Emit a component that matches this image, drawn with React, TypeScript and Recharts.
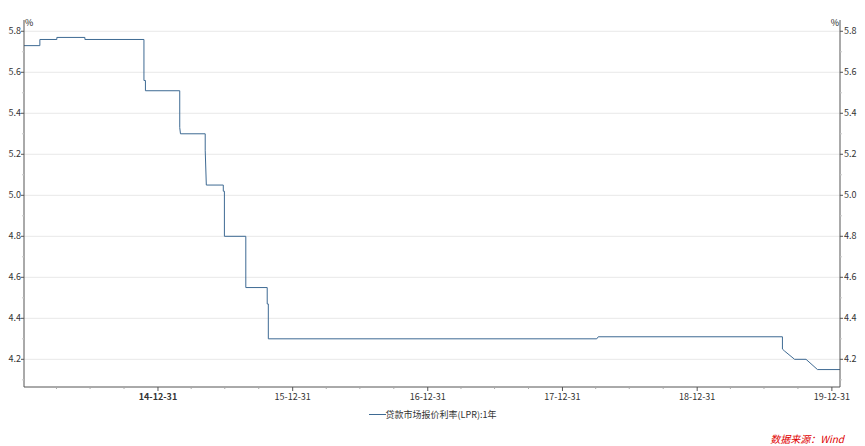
import React from "react";
import { LineChart, Line, XAxis, YAxis, CartesianGrid, Legend } from "recharts";

// 贷款市场报价利率(LPR):1年, change points
const rateDates = [
  "2014-01-02", "2014-02-14", "2014-02-14", "2014-04-01", "2014-04-01", "2014-06-16", "2014-06-16",
  "2014-11-23", "2014-11-23", "2014-11-27", "2014-11-27",
  "2015-02-28", "2015-02-28", "2015-03-02",
  "2015-05-08", "2015-05-08", "2015-05-11",
  "2015-06-26", "2015-06-26", "2015-06-29", "2015-06-29",
  "2015-08-26", "2015-08-26",
  "2015-10-23", "2015-10-23", "2015-10-26", "2015-10-26",
  "2018-04-03", "2018-04-07",
  "2019-08-19", "2019-08-19", "2019-08-25", "2019-09-21", "2019-10-22", "2019-11-22", "2020-01-22",
];
const rateValues = [
  5.73, 5.73, 5.76, 5.76, 5.77, 5.77, 5.76,
  5.76, 5.56, 5.56, 5.51,
  5.51, 5.33, 5.3,
  5.3, 5.22, 5.05,
  5.05, 5.02, 5.02, 4.8,
  4.8, 4.55,
  4.55, 4.47, 4.47, 4.3,
  4.3, 4.31,
  4.31, 4.25, 4.24, 4.2, 4.2, 4.15, 4.15,
];

const seriesName = "贷款市场报价利率(LPR):1年";
const yMajorTicks = [4.2, 4.4, 4.6, 4.8, 5.0, 5.2, 5.4, 5.6, 5.8];
const yMinorTicks = [4.1, 4.3, 4.5, 4.7, 4.9, 5.1, 5.3, 5.5, 5.7];
const tickYears = [2014, 2015, 2016, 2017, 2018, 2019];
const quarterEnds = ["03-31", "06-30", "09-30", "12-31"];
const boldLabel = "14-12-31";
const xStart = "2014-01-02";
const xEnd = "2020-01-22";

const data = rateDates.map((d, i) => ({ t: Date.parse(d), rate: rateValues[i] }));
const xTicks = tickYears.flatMap((y) => quarterEnds.map((q) => Date.parse(`${y}-${q}`)));
const yTicks = [...yMajorTicks, ...yMinorTicks].sort((a, b) => a - b);

const FONT = "'Noto Sans CJK SC', 'Liberation Sans', sans-serif";
const AXIS = "#555";
const LINE = "#3e6a93";

const isMajor = (v: number) => yMajorTicks.some((t) => Math.abs(t - v) < 1e-6);

function fmtDate(ms: number) {
  const d = new Date(ms);
  const yy = String(d.getUTCFullYear()).slice(2);
  const mm = String(d.getUTCMonth() + 1).padStart(2, "0");
  const dd = String(d.getUTCDate()).padStart(2, "0");
  return `${yy}-${mm}-${dd}`;
}

function LeftTick(props: any) {
  const { x, y, payload } = props;
  const major = isMajor(payload.value);
  const ax = x + 3;
  return (
    <g>
      <line x1={ax - (major ? 3 : 2)} x2={ax} y1={y} y2={y} stroke={major ? AXIS : "#c8c8c8"} />
      {major && (
        <text x={ax - 3} y={y} dy={3} textAnchor="end" fontSize={9} fontFamily={FONT} fill="#333">
          {payload.value.toFixed(1)}
        </text>
      )}
    </g>
  );
}

function RightTick(props: any) {
  const { x, y, payload } = props;
  const major = isMajor(payload.value);
  const ax = x - 3;
  return (
    <g>
      <line x1={ax} x2={ax + (major ? 3 : 2)} y1={y} y2={y} stroke={major ? AXIS : "#c8c8c8"} />
      {major && (
        <text x={ax + 4} y={y} dy={3} textAnchor="start" fontSize={9} fontFamily={FONT} fill="#333">
          {payload.value.toFixed(1)}
        </text>
      )}
    </g>
  );
}

function DateTick(props: any) {
  const { x, y, payload } = props;
  const label = fmtDate(payload.value);
  const major = label.endsWith("12-31");
  const ay = y - 4;
  return (
    <g>
      <line x1={x} x2={x} y1={ay} y2={ay + (major ? 4 : 2)} stroke={major ? AXIS : "#aaa"} />
      {major && (
        <text
          x={x}
          y={ay}
          dy={13}
          textAnchor="middle"
          fontSize={9}
          fontFamily={FONT}
          fontWeight={label === boldLabel ? "bold" : "normal"}
          fill="#333"
        >
          {label}
        </text>
      )}
    </g>
  );
}

function UnitLabel({ viewBox, side }: any) {
  if (!viewBox) return null;
  const { x, y, width } = viewBox;
  const tx = side === "left" ? x + width + 1 : x - 1;
  return (
    <text x={tx} y={y + 6} textAnchor={side === "left" ? "start" : "end"} fontSize={9} fontFamily={FONT} fill="#222">
      %
    </text>
  );
}

function LegendBox() {
  return (
    <div style={{ height: 20, display: "flex", justifyContent: "center", alignItems: "center" }}>
      <svg width={17} height={20}>
        <line x1={0} x2={17} y1={10.5} y2={10.5} stroke={LINE} />
      </svg>
      <span style={{ fontSize: 9, fontFamily: FONT, color: "#333" }}>{seriesName}</span>
    </div>
  );
}

export default function App() {
  return (
    <div style={{ position: "absolute", left: 0, top: 0, width: 865, height: 446, background: "#fff" }}>
      <LineChart width={865} height={446} data={data} margin={{ top: 20, right: 0, left: 0, bottom: 22 }}>
        <CartesianGrid vertical={false} stroke="#e8e8e8" horizontalValues={yMajorTicks} />
        <XAxis
          dataKey="t"
          type="number"
          domain={[Date.parse(xStart), Date.parse(xEnd)]}
          ticks={xTicks}
          interval={0}
          height={17}
          tickSize={4}
          tickMargin={0}
          tickLine={false}
          tick={<DateTick />}
          axisLine={{ stroke: AXIS }}
        />
        <YAxis
          domain={[4.065, 5.855]}
          ticks={yTicks}
          interval={0}
          width={24}
          tickSize={3}
          tickMargin={0}
          tickLine={false}
          tick={<LeftTick />}
          axisLine={{ stroke: AXIS }}
          allowDataOverflow
          label={<UnitLabel side="left" />}
        />
        <YAxis
          yAxisId="right"
          orientation="right"
          domain={[4.065, 5.855]}
          ticks={yTicks}
          interval={0}
          width={25}
          tickSize={3}
          tickMargin={0}
          tickLine={false}
          tick={<RightTick />}
          axisLine={{ stroke: AXIS }}
          allowDataOverflow
          label={<UnitLabel side="right" />}
        />
        <Legend verticalAlign="bottom" content={<LegendBox />} />
        <Line
          type="linear"
          dataKey="rate"
          name={seriesName}
          stroke={LINE}
          strokeWidth={1}
          dot={false}
          activeDot={false}
          isAnimationActive={false}
        />
      </LineChart>
      <div
        style={{
          position: "absolute",
          right: 21,
          top: 433,
          fontSize: 10,
          lineHeight: "12px",
          fontFamily: FONT,
          fontStyle: "italic",
          color: "#e00000",
        }}
      >
        数据来源：Wind
      </div>
    </div>
  );
}
